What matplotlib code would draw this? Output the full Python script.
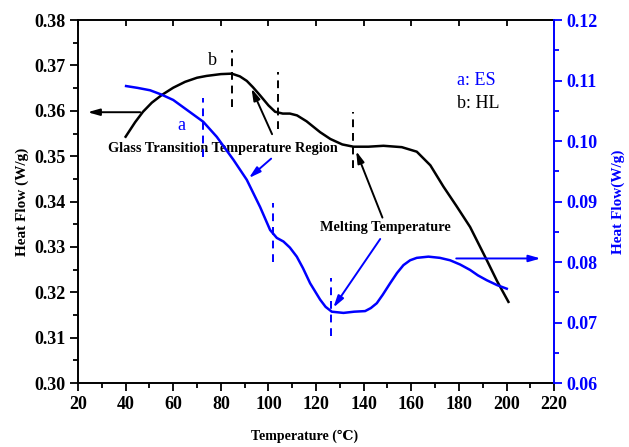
import matplotlib
matplotlib.use('Agg')
import matplotlib.pyplot as plt
from matplotlib.ticker import MultipleLocator

plt.rcParams['font.family'] = ['Liberation Serif', 'DejaVu Serif']

# curve b: HL (left axis)
hl_temp = [40, 44, 47.3, 51, 55.2, 60, 65, 70, 74, 80, 84.6, 88, 90.9, 93.5, 96.5,
           100, 102.8, 106, 109, 112, 116, 121.7, 126, 131, 135.7, 142, 148.3,
           156, 162.3, 168, 173.5, 179, 184.7, 191.7, 196, 200.8]
hl_flow = [0.3543, 0.3575, 0.3598, 0.3618, 0.3635, 0.3651, 0.3664, 0.3673, 0.3677,
           0.3681, 0.3682, 0.3676, 0.3666, 0.3652, 0.3634, 0.3612, 0.3598, 0.3594,
           0.3594, 0.3590, 0.3577, 0.3553, 0.3538, 0.3526, 0.3521, 0.3521, 0.3523,
           0.3520, 0.3510, 0.3480, 0.3433, 0.3390, 0.3344, 0.3271, 0.3225, 0.3179]

# curve a: ES (right axis)
es_temp = [40.2, 45, 50.3, 55, 60, 67, 72.6, 78.3, 85.3, 90.9, 96.5, 100.7, 103.5,
           106.3, 109, 111.9, 114.5, 117.5, 121.7, 124, 126.6, 131.5, 136, 140.6,
           143, 145.5, 148, 151.1, 154, 156.7, 159.5, 162.3, 167.2, 172, 176.3,
           180.5, 184.7, 188, 191.7, 196, 200.1]
es_flow = [0.1091, 0.1088, 0.1084, 0.1077, 0.1068, 0.1048, 0.1032, 0.1007, 0.0969,
           0.0936, 0.0891, 0.0853, 0.0840, 0.0834, 0.0824, 0.0809, 0.0790, 0.0765,
           0.0738, 0.0726, 0.0718, 0.0716, 0.0718, 0.0719, 0.0724, 0.0732, 0.0746,
           0.0765, 0.0782, 0.0795, 0.0803, 0.0807, 0.0809, 0.0807, 0.0803, 0.0796,
           0.0787, 0.0778, 0.0770, 0.0762, 0.0756]

# dashed markers: (temperature, y bottom, y top)
hl_marks = [(84.7, 0.3609, 0.3734), (104, 0.3561, 0.3686), (135.7, 0.3473, 0.3598)]
es_marks = [(72.6, 0.0974, 0.1071), (101.8, 0.0800, 0.0897), (126.3, 0.0677, 0.0773)]

blue = '#0000ff'

fig = plt.figure(figsize=(6.29, 4.47), dpi=100)
ax = fig.add_subplot(111)
fig.subplots_adjust(left=0.124, right=0.881, top=0.955, bottom=0.143)
ax2 = ax.twinx()

ax.plot(hl_temp, hl_flow, color='black', lw=1.8)
ax2.plot(es_temp, es_flow, color=blue, lw=1.8)

for t, y0, y1 in hl_marks:
    ax.plot([t, t], [y0, y1], color='black', lw=1.4, ls=(0, (4, 3)))
for t, y0, y1 in es_marks:
    ax2.plot([t, t], [y0, y1], color=blue, lw=1.4, ls=(0, (4, 3)))

ax.set_xlim(20, 220)
ax.set_ylim(0.30, 0.38)
ax2.set_ylim(0.06, 0.12)

ax.xaxis.set_major_locator(MultipleLocator(20))
ax.xaxis.set_minor_locator(MultipleLocator(10))
ax.yaxis.set_major_locator(MultipleLocator(0.01))
ax.yaxis.set_minor_locator(MultipleLocator(0.005))
ax2.yaxis.set_major_locator(MultipleLocator(0.01))
ax2.yaxis.set_minor_locator(MultipleLocator(0.005))
ax.yaxis.set_major_formatter(plt.FormatStrFormatter('%.2f'))
ax2.yaxis.set_major_formatter(plt.FormatStrFormatter('%.2f'))

ax.tick_params(axis='both', which='major', direction='out', length=6, width=1.3,
               labelsize=13, pad=3)
ax.tick_params(axis='both', which='minor', direction='out', length=3.5, width=1.3)
ax2.tick_params(axis='y', which='major', direction='out', length=6, width=1.3,
                colors=blue, labelsize=13, pad=3)
ax2.tick_params(axis='y', which='minor', direction='out', length=3.5, width=1.3,
                colors=blue)
# inward major ticks along the top edge
ax2.xaxis.set_visible(True)
ax2.tick_params(axis='x', which='major', top=True, bottom=False, direction='in',
                length=4, width=1.3, labeltop=False, labelbottom=False)
ax2.tick_params(axis='x', which='minor', top=False, bottom=False)
for lab in ax.get_xticklabels() + ax.get_yticklabels() + ax2.get_yticklabels():
    lab.set_fontweight('bold')

for s in ['left', 'bottom', 'top']:
    ax.spines[s].set_linewidth(1.4)
ax2.spines['right'].set_color(blue)
ax2.spines['right'].set_linewidth(1.4)
ax.spines['right'].set_visible(False)
for s in ['left', 'bottom', 'top']:
    ax2.spines[s].set_visible(False)

ax.set_ylabel('Heat Flow (W/g)', fontsize=11, fontweight='bold', va='center')
ax.yaxis.set_label_coords(-0.118, 0.5)
ax2.set_ylabel('Heat Flow(W/g)', fontsize=11, fontweight='bold', color=blue,
               va='center', rotation=90)
ax2.yaxis.set_label_coords(1.135, 0.5)
ax.set_xlabel('Temperature (℃)', fontsize=10, fontweight='bold', va='center')
ax.xaxis.set_label_coords(0.475, -0.147)

# labels
ax.text(76.3, 0.3712, 'b', fontsize=13, ha='center', va='center')
ax.text(63.3, 0.3567, 'a', fontsize=13, ha='center', va='center', color=blue)
ax.text(179.1, 0.3668, 'a: ES', fontsize=13, ha='left', va='center', color=blue)
ax.text(179.1, 0.3616, 'b: HL', fontsize=13, ha='left', va='center')
ax.text(80.9, 0.3518, 'Glass Transition Temperature Region', fontsize=10.3,
        fontweight='bold', ha='center', va='center')
ax.text(149, 0.3344, 'Melting Temperature', fontsize=10.3, fontweight='bold',
        ha='center', va='center')

akw = dict(arrowstyle='-|>,head_length=0.7,head_width=0.2', lw=1.4)
ax.annotate('', xy=(22.9, 0.3597), xytext=(47.3, 0.3597),
            arrowprops=dict(color='black', **akw))
ax2.annotate('', xy=(215.5, 0.0806), xytext=(177.7, 0.0806),
             arrowprops=dict(color=blue, **akw))
ax.annotate('', xy=(92.4, 0.3655), xytext=(102, 0.3543),
            arrowprops=dict(color='black', **akw))
ax2.annotate('', xy=(90.9, 0.0936), xytext=(102, 0.0974),
             arrowprops=dict(color=blue, **akw))
ax.annotate('', xy=(136.4, 0.3517), xytext=(148.3, 0.3359),
            arrowprops=dict(color='black', **akw))
ax2.annotate('', xy=(126.6, 0.0721), xytext=(147.6, 0.0842),
             arrowprops=dict(color=blue, **akw))

fig.savefig('out.png', dpi=100)
